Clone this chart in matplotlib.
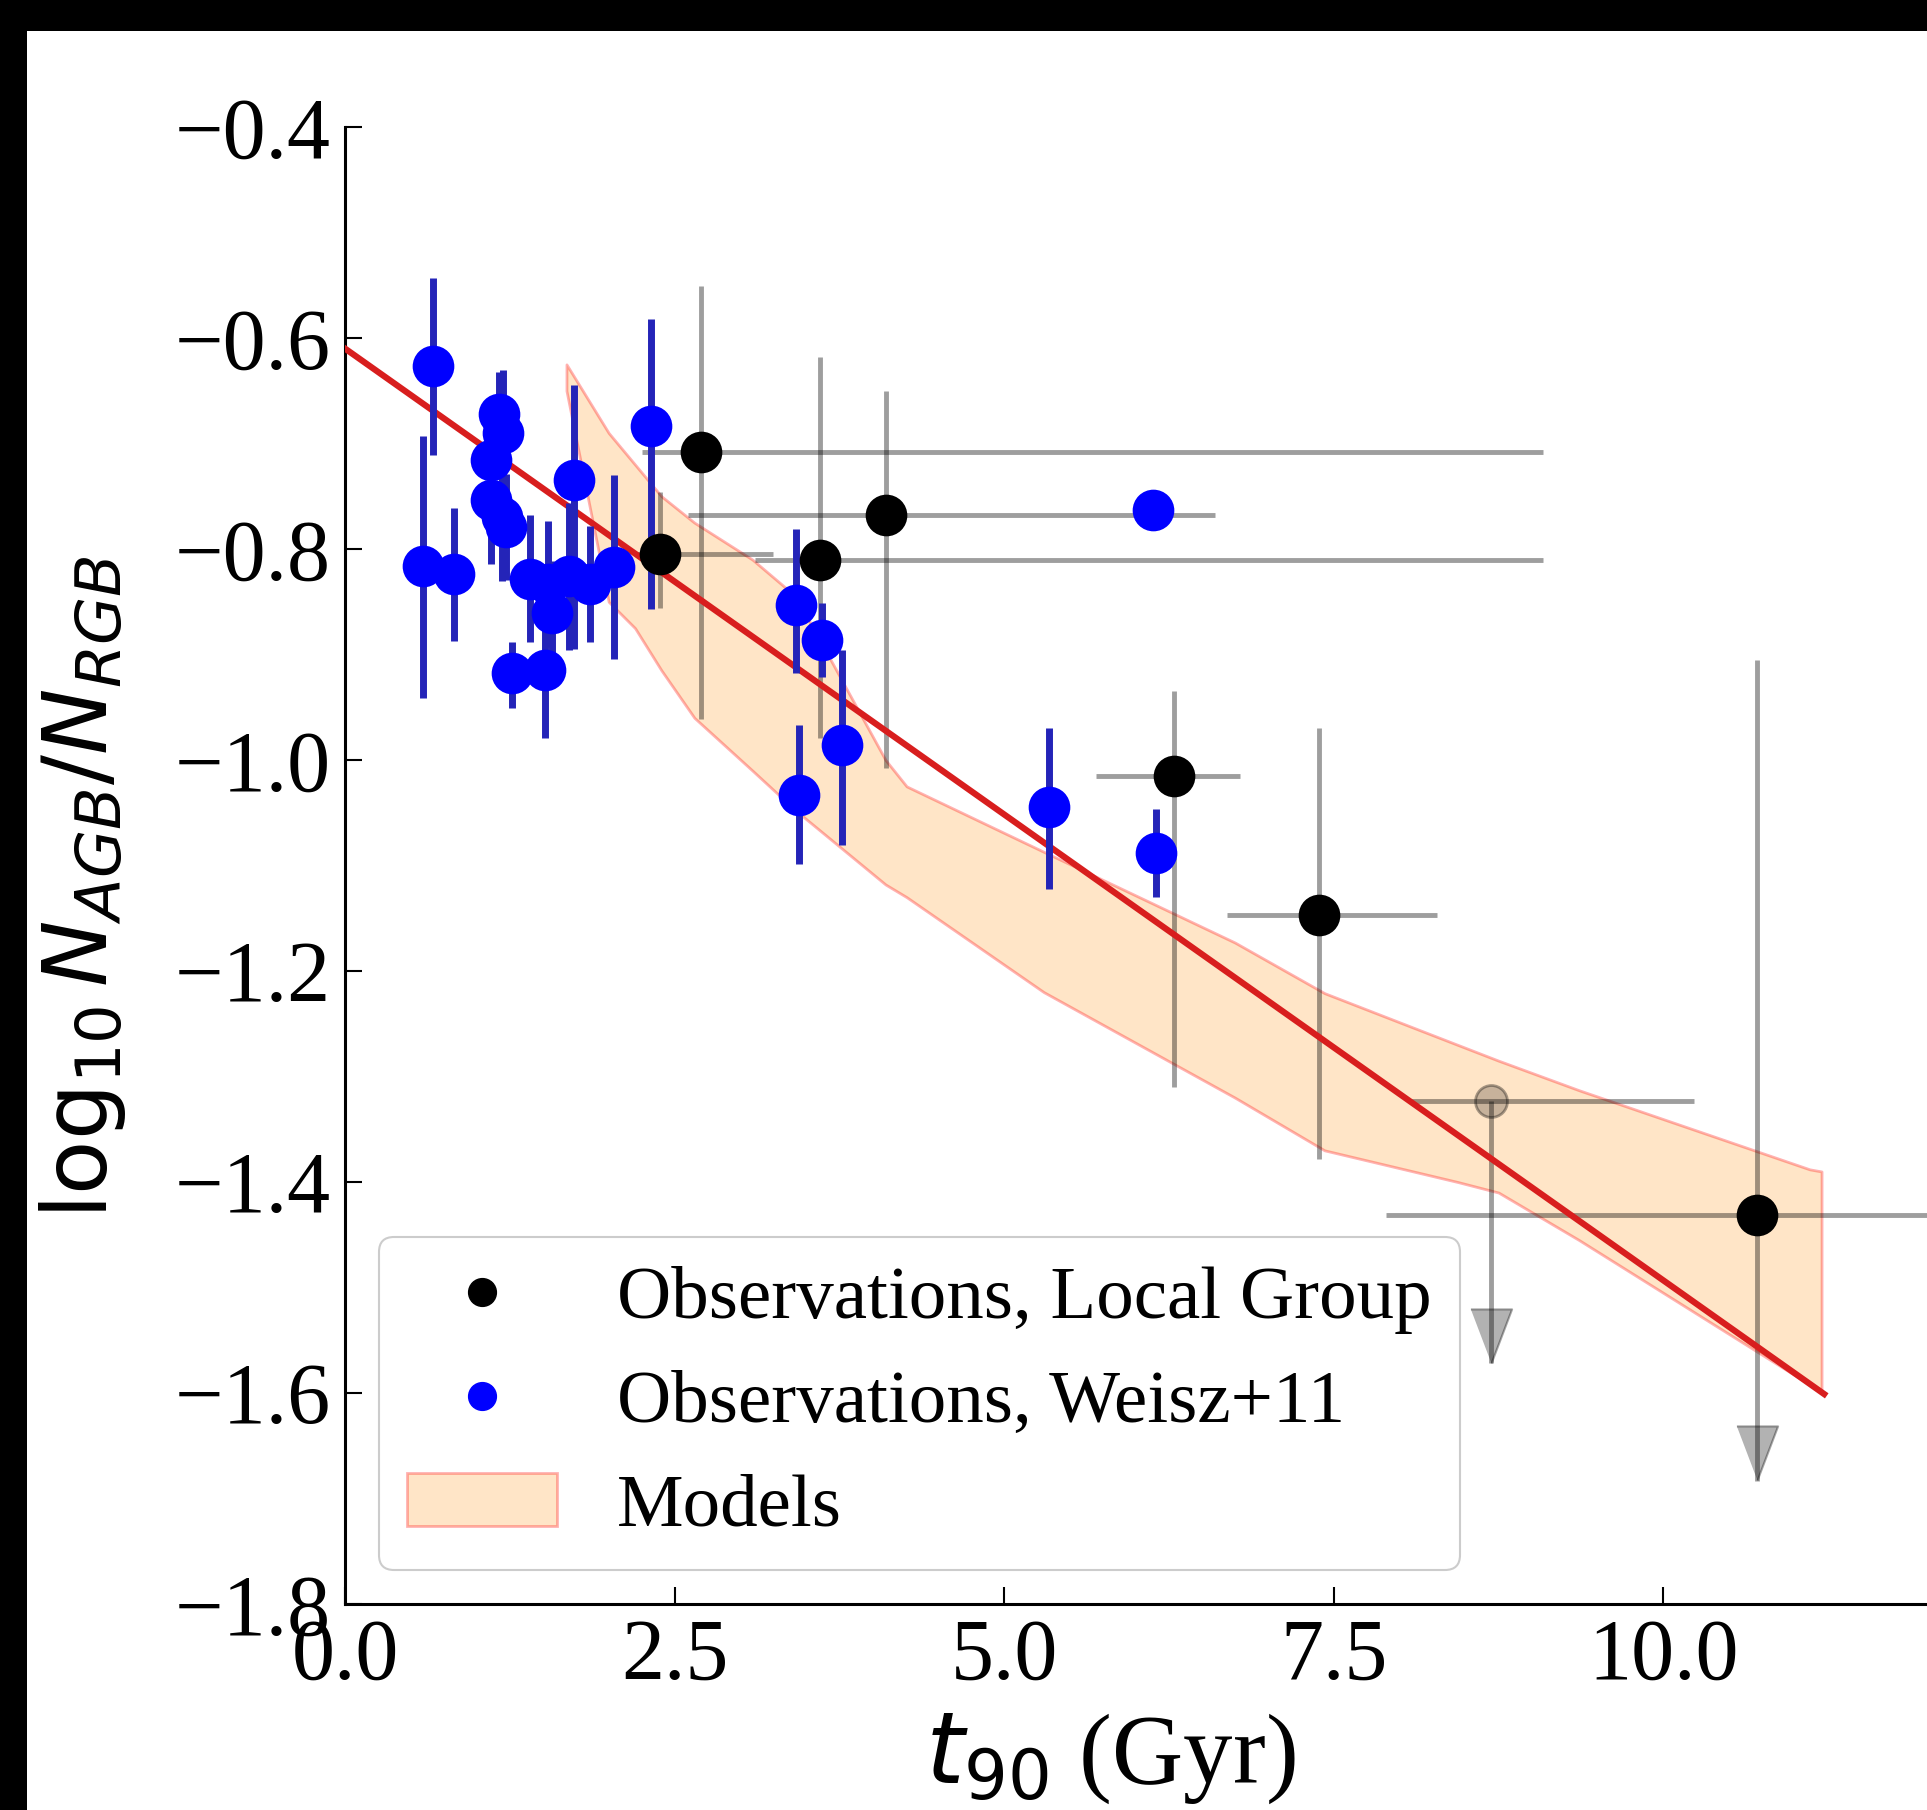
import matplotlib
matplotlib.use("Agg")
import matplotlib.pyplot as plt
from matplotlib.patches import Rectangle, Patch
from matplotlib.lines import Line2D
import numpy as np

plt.rcParams['font.family'] = 'serif'
plt.rcParams['font.serif'] = ['Liberation Serif', 'DejaVu Serif']
plt.rcParams['mathtext.fontset'] = 'dejavusans'

# Observations, Local Group (black points, gray error bars)
lg_x = [2.70, 2.39, 3.60, 4.10, 6.29, 7.39]
lg_y = [-0.708, -0.805, -0.810, -0.768, -1.015, -1.147]
lg_x_lo = [2.25, 2.20, 3.11, 2.60, 5.70, 6.69]
lg_x_hi = [9.09, 3.25, 9.09, 6.60, 6.79, 8.28]
lg_y_lo = [-0.961, -0.856, -0.979, -1.008, -1.310, -1.378]
lg_y_hi = [-0.551, -0.746, -0.618, -0.650, -0.935, -0.970]

# Local Group upper limits (arrows)
ul_x = [8.69, 10.71]
ul_y = [-1.323, -1.431]
ul_x_lo = [8.07, 7.90]
ul_x_hi = [10.23, 12.50]
ul_y_hi = [-1.323, -0.905]
ul_y_tip = [-1.572, -1.683]

# Observations, Weisz+11 (blue)
w_x = [0.67, 0.59, 0.83, 1.17, 1.20, 1.11, 1.11, 1.19, 1.22,
       1.40, 1.54, 1.57, 1.70, 1.86, 2.04, 1.27, 1.52, 1.74, 2.32,
       3.42, 3.62, 3.77, 3.44, 5.34, 6.15, 6.13]
w_y = [-0.627, -0.816, -0.824, -0.672, -0.690, -0.716, -0.754, -0.770, -0.779,
       -0.828, -0.833, -0.861, -0.826, -0.833, -0.817, -0.918, -0.915, -0.735, -0.683,
       -0.853, -0.886, -0.986, -1.033, -1.045, -1.088, -0.763]
w_err_lo = [0.084, 0.125, 0.063, 0.045, 0.060, 0.060, 0.060, 0.060, 0.050,
            0.060, 0.060, 0.050, 0.070, 0.055, 0.087, 0.033, 0.064, 0.160, 0.174,
            0.065, 0.035, 0.095, 0.066, 0.077, 0.042, 0.015]
w_err_hi = [0.084, 0.123, 0.063, 0.040, 0.060, 0.060, 0.060, 0.060, 0.050,
            0.060, 0.060, 0.050, 0.070, 0.055, 0.087, 0.030, 0.064, 0.090, 0.101,
            0.072, 0.035, 0.090, 0.066, 0.075, 0.042, 0.015]

# Models band
band_x = [1.68, 2.00, 2.20, 2.40, 2.65, 3.09, 3.42, 4.10, 4.26, 5.30, 6.75,
          7.43, 8.44, 8.75, 9.36, 11.11, 11.20]
band_hi = [-0.625, -0.690, -0.720, -0.750, -0.775, -0.810, -0.845, -1.000, -1.025,
           -1.087, -1.173, -1.221, -1.270, -1.285, -1.313, -1.388, -1.390]
band_lo = [-0.650, -0.850, -0.875, -0.915, -0.960, -1.010, -1.048, -1.118, -1.130,
           -1.220, -1.320, -1.370, -1.400, -1.410, -1.455, -1.592, -1.600]

# Linear fit
fit_x = [0.0, 11.22]
fit_y = [-0.610, -1.601]

W, H = 1927, 1810
fig = plt.figure(figsize=(W / 100, H / 100), dpi=100, facecolor='black')
fig.add_artist(Rectangle((27 / W, 0), 1, (H - 31) / H, transform=fig.transFigure,
                         facecolor='white', edgecolor='none', zorder=-10))
ax = fig.add_axes([345 / W, 206 / H, 1 - 345 / W, 1477 / H])

gray = (0, 0, 0, 0.38)

ax.fill_between(band_x, band_lo, band_hi, facecolor=(1.0, 0.55, 0.0, 0.22),
                edgecolor=(1.0, 0.0, 0.0, 0.3), linewidth=2, zorder=1)

# gray error bars for Local Group
x = np.array(lg_x)
y = np.array(lg_y)
ax.errorbar(x, y, xerr=[x - np.array(lg_x_lo), np.array(lg_x_hi) - x],
            yerr=[y - np.array(lg_y_lo), np.array(lg_y_hi) - y],
            fmt='none', ecolor=gray, elinewidth=3.5, capsize=0, zorder=2)
ux = np.array(ul_x)
uy = np.array(ul_y)
ax.errorbar(ux, uy, xerr=[ux - np.array(ul_x_lo), np.array(ul_x_hi) - ux],
            fmt='none', ecolor=gray, elinewidth=3.5, capsize=0, zorder=2)
ax.vlines(ux, ul_y_tip, ul_y_hi, colors=[gray], linewidth=3.5, zorder=2)
tri = [(-0.38, 0.5), (0.38, 0.5), (0.0, -0.5)]
ax.plot(ux, np.array(ul_y_tip) + 0.026, linestyle='none', marker=tri, ms=39,
        mfc=(0, 0, 0, 0.3), mec=(0, 0, 0, 0.35), mew=1.5, zorder=2)

ax.plot(fit_x, fit_y, color='#d81e1e', linewidth=4.5, zorder=3)

# blue error bars and points
ax.errorbar(w_x, w_y, yerr=[w_err_lo, w_err_hi], fmt='none', ecolor='#2424b8',
            elinewidth=5, capsize=0, zorder=4)
ax.plot(w_x, w_y, 'o', color='blue', ms=30, mec='none', zorder=5)

# black points
ax.plot(lg_x, lg_y, 'o', color='black', ms=30, mec='none', zorder=6)
ax.plot(ul_x[1:], ul_y[1:], 'o', color='black', ms=30, mec='none', zorder=6)
ax.plot(ul_x[:1], ul_y[:1], 'o', ms=23, mfc=(0, 0, 0, 0.22), mec=(0, 0, 0, 0.35),
        mew=2, zorder=6)

ax.set_xlim(0, 12)
ax.set_ylim(-1.8, -0.4)
ax.set_xticks([0, 2.5, 5, 7.5, 10])
ax.set_yticks(np.round(np.arange(-1.8, -0.39, 0.2), 1))
ax.spines['top'].set_visible(False)
ax.spines['right'].set_visible(False)
for s in ['left', 'bottom']:
    ax.spines[s].set_linewidth(2.2)
ax.tick_params(direction='in', length=12, width=1.5, labelsize=62, pad=10,
               top=False, right=False)

ax.set_xlabel(r'$t_{90}$ (Gyr)', fontsize=71)
ax.set_ylabel(r'$\log_{10}N_{AGB}/N_{RGB}$', fontsize=64)
ax.xaxis.set_label_coords(0.484, -0.073)
ax.yaxis.set_label_coords(-0.137, 0.485)

handles = [
    Line2D([], [], linestyle='none', marker='o', color='black', ms=20),
    Line2D([], [], linestyle='none', marker='o', color='blue', ms=20),
    Patch(facecolor=(1.0, 0.55, 0.0, 0.22), edgecolor=(1.0, 0.0, 0.0, 0.3), linewidth=2),
]
labels = ['Observations, Local Group', 'Observations, Weisz+11', 'Models']
leg = ax.legend(handles, labels, loc='lower left', fontsize=54, frameon=True,
                fancybox=True, edgecolor='0.8', framealpha=1.0,
                borderaxespad=0.45, handlelength=2.0, handletextpad=0.8,
                labelspacing=0.47, borderpad=0.38)
leg.get_frame().set_linewidth(1.5)

fig.savefig('out.png', dpi=100, facecolor=fig.get_facecolor())
